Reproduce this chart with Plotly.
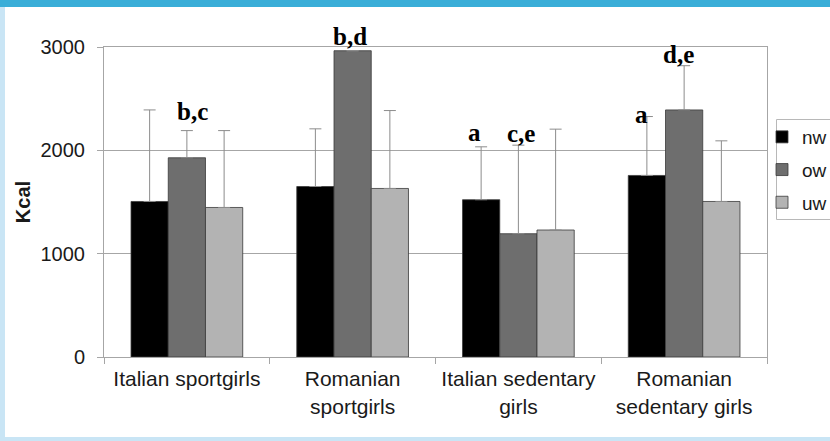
import plotly.graph_objects as go

# Daily energy intake (Kcal) by group and weight status
categories = [
    "Italian sportgirls",
    "Romanian<br>sportgirls",
    "Italian sedentary<br>girls",
    "Romanian<br>sedentary girls",
]
series_names = ["nw", "ow", "uw"]
nw_mean = [1505, 1650, 1522, 1757]
ow_mean = [1928, 2964, 1193, 2391]
uw_mean = [1447, 1631, 1229, 1505]
nw_sd = [886, 558, 512, 570]
ow_sd = [263, None, 857, 428]
uw_sd = [744, 754, 976, 587]

# significance letters: (category index, series index, text)
sig_cat = [0, 1, 2, 2, 3, 3]
sig_series = [1, 1, 0, 1, 0, 1]
sig_text = ["b,c", "b,d", "a", "c,e", "a", "d,e"]
sig_dx = [6, -3, -7, 3, -5, -6]
sig_dy = [19, 14, 14, 12, 2, 11]

y_ticks = [0, 1000, 2000, 3000]

colors = ["#000000", "#6e6e6e", "#b3b3b3"]
edge = "#3a3a3a"
grid = "#a6a6a6"
means = [nw_mean, ow_mean, uw_mean]
sds = [nw_sd, ow_sd, uw_sd]

fig = go.Figure()
for name, m, s, c in zip(series_names, means, sds, colors):
    fig.add_trace(go.Bar(
        x=categories, y=m, name=name, legendgroup=name,
        marker=dict(color=c, line=dict(color=edge, width=0.8)),
        error_y=dict(type="data", symmetric=False, array=s,
                     arrayminus=[0] * len(m), color="#8c8c8c",
                     thickness=1, width=6),
    ))

# letters above the bars
W, L, R, T, B = 830, 104, 63, 47, 84
cat_px = (W - L - R) / len(categories)
bargap = 0.326
bar_px = cat_px * (1 - bargap) / len(series_names)
for ci, si, txt, dx, dy in zip(sig_cat, sig_series, sig_text, sig_dx, sig_dy):
    top = means[si][ci] + (sds[si][ci] or 0)
    fig.add_annotation(
        x=categories[ci], y=top, xref="x", yref="y", text="<b>" + txt + "</b>",
        showarrow=False, yanchor="middle",
        xshift=(si - 1) * bar_px + dx, yshift=dy,
        font=dict(family="Liberation Serif", size=25, color="#000000"),
    )

# page frame and legend box
H = 441
ph = H - T - B
pw = W - L - R
def px_x(p):
    return (p - L) / pw
def px_y(p):
    return (H - B - p) / ph
frame = "#c9e5f5"
fig.add_shape(type="rect", xref="paper", yref="paper", layer="below",
              x0=px_x(0), x1=px_x(W), y0=px_y(7), y1=px_y(0),
              fillcolor="#3aaed8", line=dict(width=0))
fig.add_shape(type="rect", xref="paper", yref="paper", layer="below",
              x0=px_x(0), x1=px_x(5), y0=px_y(H), y1=px_y(7),
              fillcolor=frame, line=dict(width=0))
fig.add_shape(type="rect", xref="paper", yref="paper", layer="below",
              x0=px_x(0), x1=px_x(W), y0=px_y(H), y1=px_y(437),
              fillcolor=frame, line=dict(width=0))
fig.add_shape(type="rect", xref="paper", yref="paper", layer="below",
              x0=px_x(776.5), x1=px_x(W + 5), y0=px_y(219.5), y1=px_y(119.5),
              fillcolor="rgba(0,0,0,0)", line=dict(color="#b8b8b8", width=1))

fig.update_layout(
    width=W, height=H,
    margin=dict(l=L, r=R, t=T, b=B, pad=0, autoexpand=False),
    paper_bgcolor="#ffffff", plot_bgcolor="#ffffff",
    barmode="group", bargap=bargap, bargroupgap=0,
    font=dict(family="Liberation Sans", size=20, color="#1a1a1a"),
    showlegend=True,
    legend=dict(
        x=px_x(762), y=px_y(118), xanchor="left", yanchor="top",
        borderwidth=0, bgcolor="rgba(0,0,0,0)",
        font=dict(family="Liberation Sans", size=19, color="#1a1a1a"),
        traceorder="grouped", tracegroupgap=5,
    ),
    xaxis=dict(
        type="category", tickson="boundaries", ticks="outside", ticklen=6,
        tickcolor=grid, showline=True, linecolor=grid, linewidth=1,
        mirror=True, showgrid=False, automargin=False,
        tickfont=dict(size=21), ticklabelstandoff=3,
    ),
    yaxis=dict(
        range=[0, 3000], tickvals=y_ticks, ticks="outside", ticklen=6,
        tickcolor=grid, showline=True, linecolor=grid, linewidth=1,
        mirror=True, gridcolor=grid, gridwidth=1, zeroline=False,
        ticklabelstandoff=8, automargin=False,
        title=dict(text="<b>Kcal</b>", standoff=4,
                   font=dict(family="Liberation Sans", size=20,
                             color="#1a1a1a")),
    ),
)

fig.write_html("out.html")
